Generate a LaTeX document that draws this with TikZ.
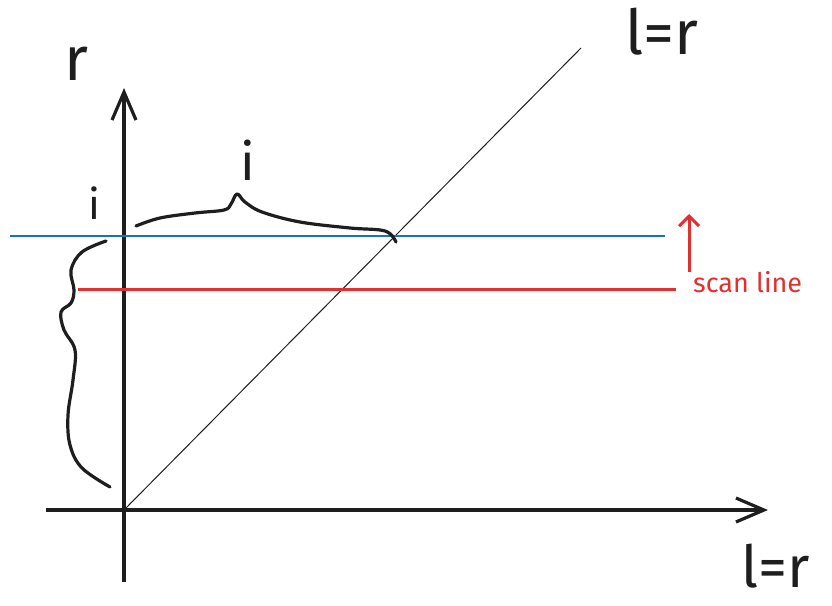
\documentclass[tikz,border=0pt]{standalone}
\usepackage{fontspec}
\setmainfont{Fira Sans}
\usetikzlibrary{arrows.meta}
\definecolor{inkblack}{HTML}{1E1E1E}
\definecolor{inkblue}{HTML}{1971C2}
\definecolor{inkred}{HTML}{E03131}
\tikzset{
  axis/.style={draw=inkblack, line width=3.2pt, -{Straight Barb[length=28pt,width=24pt]}},
  brace/.style={draw=inkblack, line width=3.2pt, line cap=round, line join=round},
  hand/.style={text=inkblack, inner sep=0pt, font=\fontsize{52}{52}\selectfont},
}
\begin{document}
\begin{tikzpicture}[x=1pt,y=-1pt]
\useasboundingbox (0,0) rectangle (832,605);
% coordinates
\coordinate (o) at (124,510);
\coordinate (ytop) at (124,88);
\coordinate (ybot) at (124,582);
\coordinate (xl) at (46,510);
\coordinate (xr) at (768,510);
\coordinate (dend) at (581,48);
\coordinate (bl) at (10,236);
\coordinate (br) at (665,236);
\coordinate (rl) at (78,289);
\coordinate (rr) at (676,289);
\coordinate (ab) at (689,272);
\coordinate (at) at (689,214);
% axes
\draw[axis] (ybot) -- (ytop);
\draw[axis] (xl) -- (xr);
% diagonal
\draw[inkblack, line width=1pt] (o) -- (dend);
% blue and red lines
\draw[inkblue, line width=1.5pt] (bl) -- (br);
\draw[inkred, line width=3pt] (rl) -- (rr);
\draw[inkred, line width=3pt, -{Straight Barb[length=10pt,width=20pt]}] (ab) -- (at);
% braces
\draw[brace] plot[smooth, tension=0.6] coordinates {(136,226) (160,218) (195,213) (224,210) (231,204) (237,194) (245,202) (262,212) (300,222) (350,228) (385,231) (396,242)};
\draw[brace] plot[smooth, tension=0.6] coordinates {(106,241) (82,252) (71,270) (74,290) (71,303) (61,312) (64,330) (75,350) (73,380) (68,415) (70,445) (82,468) (110,487)};
% labels
\node[hand, font=\fontsize{62}{62}\selectfont] (rlab) at (76,64) {r};
\node[hand, font=\fontsize{62}{62}\selectfont] (lr1) at (662,32) {l=r};
\node[hand, font=\fontsize{58}{58}\selectfont] (lr2) at (776,566) {l=r};
\node[hand] (i1) at (248,160) {i};
\node[hand, font=\fontsize{42}{42}\selectfont] (i2) at (94,203) {i};
\node[text=inkred, inner sep=0pt, anchor=west, font=\fontsize{27}{27}\selectfont] (scan) at (693,282) {scan line};
\end{tikzpicture}
\end{document}
